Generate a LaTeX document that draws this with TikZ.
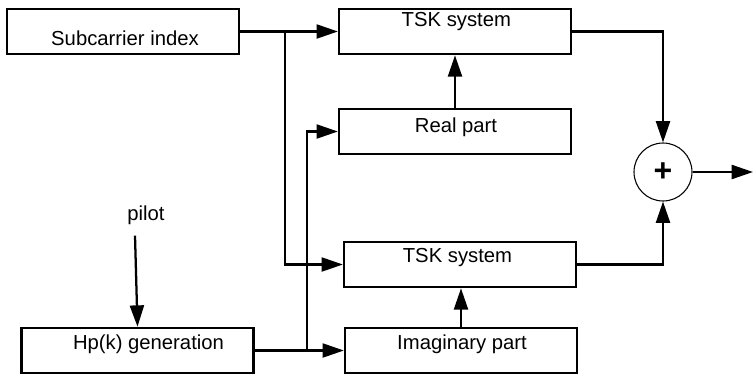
\documentclass[tikz,border=0pt]{standalone}
\usepackage{fontspec}
\setmainfont{Liberation Sans}
\usetikzlibrary{arrows.meta}

\begin{document}
\begin{tikzpicture}[
    x=0.75pt, y=-0.75pt,
    font=\fontsize{15.2}{18}\selectfont,
    block/.style={rectangle, draw, line width=1.7pt, minimum width=174pt, minimum height=34pt},
    caption/.style={text height=0.72em, text depth=0.21em, inner sep=0pt},
    adder/.style={circle, draw, line width=0.8pt, minimum size=43.5pt, inner sep=0pt,
                  font=\fontsize{24}{24}\selectfont\bfseries},
    arrow/.style={-{Triangle[length=16pt,width=10.5pt]}, line width=1.7pt}
]
  \useasboundingbox (0,0) rectangle (753,375);

  % Inputs
  \node[block, label={[caption, xshift=1.5pt, yshift=-8.25pt]center:Subcarrier index}] (sub) at (123,31.5) {};
  \node[block, label={[caption, xshift=8.25pt, yshift=3.4pt]center:Hp(k) generation}] (hp) at (137.5,350.5) {};
  \node[anchor=base] (pilot) at (146,220) {pilot};

  % Real branch
  \node[block, label={[caption, xshift=1pt, yshift=6pt]center:TSK system}] (tsk1) at (455,31.5) {};
  \node[block, label={[caption, xshift=0.75pt, yshift=1.5pt]center:Real part}] (real) at (455,131.5) {};

  % Imaginary branch
  \node[block, label={[caption, xshift=-1.9pt, yshift=3.75pt]center:TSK system}] (tsk2) at (460,264.5) {};
  \node[block, label={[caption, xshift=0.75pt, yshift=3.4pt]center:Imaginary part}] (imag) at (461,350.5) {};

  % Summation
  \node[adder] (sum) at (663,172) {+};
  \coordinate (out) at (753,172);

  % Split points
  \coordinate (split1) at (285,31.5);
  \coordinate (split2) at (307,350.5);

  % Arrows
  \draw[arrow] ([xshift=-8.25pt, yshift=-5pt]pilot.south) -- (hp.north);
  \draw[arrow] (sub) -- (tsk1);
  \draw[arrow] (split1) |- (tsk2);
  \draw[arrow] (hp) -- (imag);
  \draw[arrow] (split2) |- (real);
  \draw[arrow] (real.north) -- (real.north |- tsk1.south);
  \draw[arrow] (imag.north) -- (imag.north |- tsk2.south);
  \draw[arrow] (tsk1) -| (sum);
  \draw[arrow] (tsk2) -| (sum);
  \draw[arrow] (sum) -- (out);
\end{tikzpicture}
\end{document}
